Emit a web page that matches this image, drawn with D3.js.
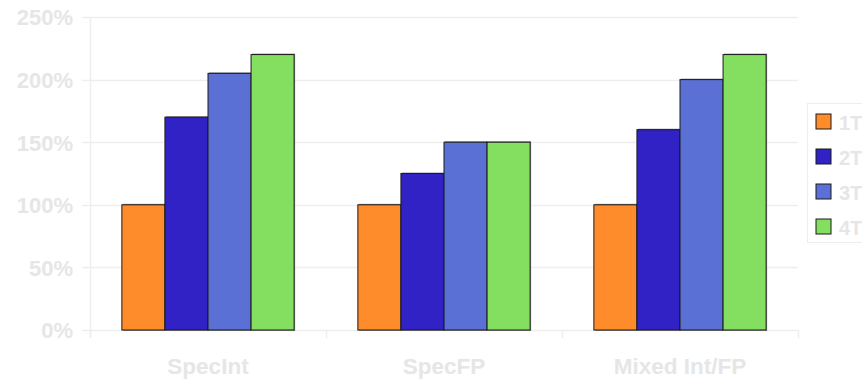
<!DOCTYPE html>
<html>
<head>
<meta charset="utf-8">
<script src="https://cdn.jsdelivr.net/npm/d3@7"></script>
<style>
  html, body { margin: 0; padding: 0; background: #fff; overflow: hidden; }
  svg { display: block; font-family: "Liberation Sans", Arial, sans-serif; }
</style>
</head>
<body>
<svg id="chart" width="862" height="381"></svg>
<script>
// Benchmark groups and thread-count series (speedup relative to 1 thread)
const categories = ["SpecInt", "SpecFP", "Mixed Int/FP"];
const seriesNames = ["1T", "2T", "3T", "4T"];
const seriesColors = ["#ff8c2a", "#3022c4", "#5b70d4", "#84de60"];
const values1T = [100, 100, 100];
const values2T = [170, 125, 160];
const values3T = [205, 150, 200];
const values4T = [220, 150, 220];
const yTicks = [0, 50, 100, 150, 200, 250];

const seriesValues = [values1T, values2T, values3T, values4T];

const svg = d3.select("#chart");
const plotLeft = 90, plotRight = 798, plotTop = 17, plotBottom = 330;
const textColor = "#e6e6e6";
const gridColor = "#eeeeee";

const x = d3.scaleBand().domain(categories).range([plotLeft, plotRight]).paddingInner(0).paddingOuter(0);
const xInner = d3.scaleBand().domain(seriesNames).range([0, x.bandwidth()]).paddingInner(0).paddingOuter(0.74);
const y = d3.scaleLinear().domain([0, 250]).range([plotBottom, plotTop]);

// Horizontal gridlines
svg.append("g").selectAll("line").data(yTicks).join("line")
  .attr("x1", plotLeft - 8).attr("x2", plotRight)
  .attr("y1", d => Math.round(y(d)) + 0.5).attr("y2", d => Math.round(y(d)) + 0.5)
  .attr("stroke", gridColor).attr("stroke-width", 1.5);

// Y axis
const yAxis = d3.axisLeft(y).tickValues(yTicks).tickFormat(d => d + "%").tickSize(0).tickPadding(17);
const gy = svg.append("g").attr("transform", `translate(${plotLeft},0)`).call(yAxis);
gy.select(".domain").remove();
gy.selectAll("text").attr("fill", textColor).attr("font-size", 22).attr("font-weight", "bold").attr("dy", "0.36em");
svg.append("line").attr("x1", plotLeft + 0.5).attr("x2", plotLeft + 0.5).attr("y1", plotTop).attr("y2", plotBottom + 8)
  .attr("stroke", gridColor).attr("stroke-width", 1.5);

// X axis
const xAxis = d3.axisBottom(x).tickSize(0).tickPadding(28);
const gx = svg.append("g").attr("transform", `translate(0,${plotBottom})`).call(xAxis);
gx.select(".domain").remove();
gx.selectAll("text").attr("fill", textColor).attr("font-size", 22.5).attr("font-weight", "bold");
const boundaries = categories.map(c => x(c)).concat([x(categories[categories.length - 1]) + x.bandwidth()]);
svg.append("g").selectAll("line").data(boundaries).join("line")
  .attr("x1", d => d + 0.5).attr("x2", d => d + 0.5)
  .attr("y1", plotBottom).attr("y2", plotBottom + 8)
  .attr("stroke", gridColor).attr("stroke-width", 1.5);

// Bars
const rows = [];
categories.forEach((c, ci) => {
  seriesNames.forEach((s, si) => rows.push({ c, s, si, v: seriesValues[si][ci] }));
});
const bars = svg.append("g");
// soft shadow under each bar
bars.selectAll("rect.shadow").data(rows).join("rect")
  .attr("class", "shadow")
  .attr("x", d => x(d.c) + xInner(d.s) + 1)
  .attr("y", d => y(d.v) - 1)
  .attr("width", xInner.bandwidth())
  .attr("height", d => y(0) - y(d.v) + 2)
  .attr("fill", "#999");
bars.selectAll("rect.bar").data(rows).join("rect")
  .attr("class", "bar")
  .attr("x", d => x(d.c) + xInner(d.s))
  .attr("y", d => y(d.v))
  .attr("width", xInner.bandwidth())
  .attr("height", d => y(0) - y(d.v))
  .attr("fill", d => seriesColors[d.si])
  .attr("stroke", "#1a1a1a").attr("stroke-width", 1);

// Legend
const legend = svg.append("g").attr("transform", "translate(807,103)");
legend.append("rect").attr("x", 0.5).attr("y", 0.5).attr("width", 80).attr("height", 139)
  .attr("fill", "#fff").attr("stroke", gridColor).attr("stroke-width", 1.2);
const items = legend.selectAll("g.item").data(seriesNames).join("g")
  .attr("class", "item")
  .attr("transform", (d, i) => `translate(9,${11 + i * 35})`);
items.append("rect").attr("width", 15).attr("height", 15)
  .attr("fill", (d, i) => seriesColors[i]).attr("stroke", "#1a1a1a").attr("stroke-width", 1);
items.append("text").attr("x", 23).attr("y", 15.5).text(d => d)
  .attr("fill", textColor).attr("font-size", 20).attr("font-weight", "bold");
</script>
</body>
</html>
